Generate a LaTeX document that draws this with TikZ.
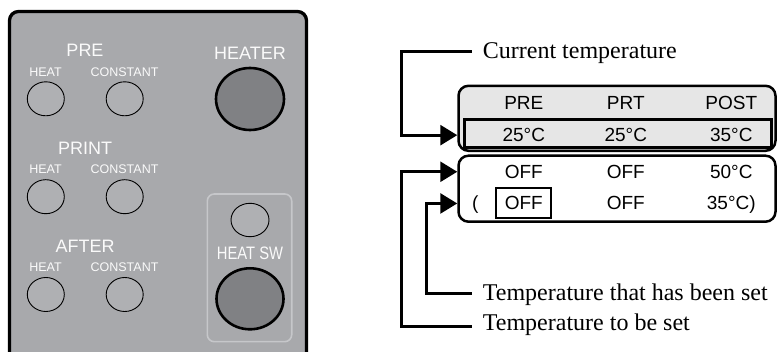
\documentclass[tikz,border=0pt]{standalone}
\usepackage{fontspec}
\setmainfont{Liberation Serif}
\setsansfont{Liberation Sans}
\usetikzlibrary{arrows.meta,shapes.geometric}
\definecolor{panelgray}{RGB}{168,169,172}
\definecolor{btnfill}{RGB}{175,176,179}
\definecolor{darkbtn}{RGB}{128,129,132}
\definecolor{swline}{RGB}{198,199,202}
\definecolor{paneltxt}{RGB}{250,250,250}
\definecolor{dispgray}{RGB}{230,230,230}
\begin{document}
\begin{tikzpicture}[x=1pt,y=-1pt,
  bigtxt/.style={text=paneltxt, font=\sffamily\fontsize{18}{18}\selectfont, inner sep=0pt},
  smalltxt/.style={text=paneltxt, font=\sffamily\fontsize{12.5}{12.5}\selectfont, inner sep=0pt},
  btn/.style={ellipse, draw=black, line width=0.9pt, fill=btnfill, minimum width=37pt, minimum height=34pt, inner sep=0pt},
  bigbtn/.style={ellipse, draw=black, line width=2.6pt, fill=darkbtn, minimum width=67pt, minimum height=61pt, inner sep=0pt},
  disp/.style={font=\sffamily\fontsize{19}{19}\selectfont, inner sep=0pt, anchor=base},
  lbl/.style={font=\fontsize{24}{24}\selectfont, anchor=base west, inner sep=0pt},
  dispbox/.style={draw=black, line width=2.5pt, rounded corners=10pt, minimum width=317pt, inner sep=0pt},
  conn/.style={line width=2.8pt, -{Triangle[length=17pt,width=20pt]}},
]
\useasboundingbox (0,0) rectangle (777,352);
\clip (0,0) rectangle (777,352);

% ---------- control panel ----------
\path[fill=panelgray, draw=black, line width=3.3pt, rounded corners=9pt]
  (9.5,370) -- (9.5,11.5) -- (306.5,11.5) -- (306.5,370);

\node[bigtxt] (pre) at (85,50) {PRE};
\node[smalltxt] (preh) at (45.5,72.5) {HEAT};
\node[smalltxt] (prec) at (124.5,72.5) {CONSTANT};
\node[btn] (preb1) at (45.8,98.8) {};
\node[btn] (preb2) at (124.7,98.8) {};

\node[bigtxt] (prt) at (85,148.3) {PRINT};
\node[smalltxt] (prth) at (45.5,169.5) {HEAT};
\node[smalltxt] (prtc) at (124.5,169.5) {CONSTANT};
\node[btn] (prtb1) at (45.8,196.7) {};
\node[btn] (prtb2) at (124.7,196.7) {};

\node[bigtxt] (aft) at (85,246) {AFTER};
\node[smalltxt] (afth) at (45.5,267.5) {HEAT};
\node[smalltxt] (aftc) at (124.5,267.5) {CONSTANT};
\node[btn] (aftb1) at (45.8,294.5) {};
\node[btn] (aftb2) at (124.7,294.5) {};

\node[bigtxt] (heater) at (250,53.3) {HEATER};
\node[bigbtn, minimum width=68pt, minimum height=62pt] (heaterb) at (250,99) {};

\node[draw=swline, line width=1.6pt, rounded corners=7pt, minimum width=84.4pt, minimum height=147.7pt, inner sep=0pt] (swbox) at (249.5,267.85) {};
\node[btn, minimum width=38pt, minimum height=33.4pt] (swsmall) at (250,220) {};
\node[bigtxt] (swtxt) at (250,253) {\scalebox{0.82}[1]{HEAT SW}};
\node[bigbtn] (swbig) at (250,298.8) {};

% ---------- display ----------
\node[dispbox, fill=dispgray, minimum height=65pt] (curbox) at (617,118.3) {};
\node[dispbox, fill=white, minimum height=66pt] (setbox) at (617,188.7) {};
\node[draw=black, line width=3pt, minimum width=307pt, minimum height=28pt, inner sep=0pt] (inner) at (617.5,133.2) {};

\node[disp] (r1a) at (523.8,109.3) {PRE};
\node[disp] (r1b) at (625.8,109.3) {PRT};
\node[disp] (r1c) at (731.3,109.3) {POST};

\node[disp] (r2a) at (523.8,141.7) {25°C};
\node[disp] (r2b) at (625.8,141.7) {25°C};
\node[disp] (r2c) at (731.3,141.7) {35°C};

\node[disp] (r3a) at (523.8,178.3) {OFF};
\node[disp] (r3b) at (625.8,178.3) {OFF};
\node[disp] (r3c) at (731.3,178.3) {50°C};

\node[disp, anchor=base west] (r4p) at (472,210) {(};
\node[disp] (r4a) at (523.8,210) {OFF};
\node[draw=black, line width=2.3pt, minimum width=55pt, minimum height=30pt, inner sep=0pt] (offbox) at (523.5,203) {};
\node[disp] (r4b) at (625.8,210) {OFF};
\node[disp] (r4c) at (731.3,210) {35°C)};

% ---------- labels and connectors ----------
\node[lbl] (lcur) at (482.7,59) {Current temperature};
\node[lbl] (lhas) at (482.7,300.5) {Temperature that has been set};
\node[lbl] (lto) at (482.7,331) {Temperature to be set};

\coordinate (c1) at (471.7,51.3);
\coordinate (c2) at (471.7,293.3);
\coordinate (c3) at (471.7,326.7);
\coordinate (xa) at (401.7,0);
\coordinate (xb) at (426.7,0);

\draw[conn] (c1) -- (c1 -| xa) -- (xa |- r2a) -- (curbox.west |- r2a);
\draw[conn] (c3) -- (c3 -| xa) -- (xa |- r3a) -- (setbox.west |- r3a);
\draw[conn] (c2) -- (c2 -| xb) -- (xb |- r4a) -- (setbox.west |- r4a);
\end{tikzpicture}
\end{document}
